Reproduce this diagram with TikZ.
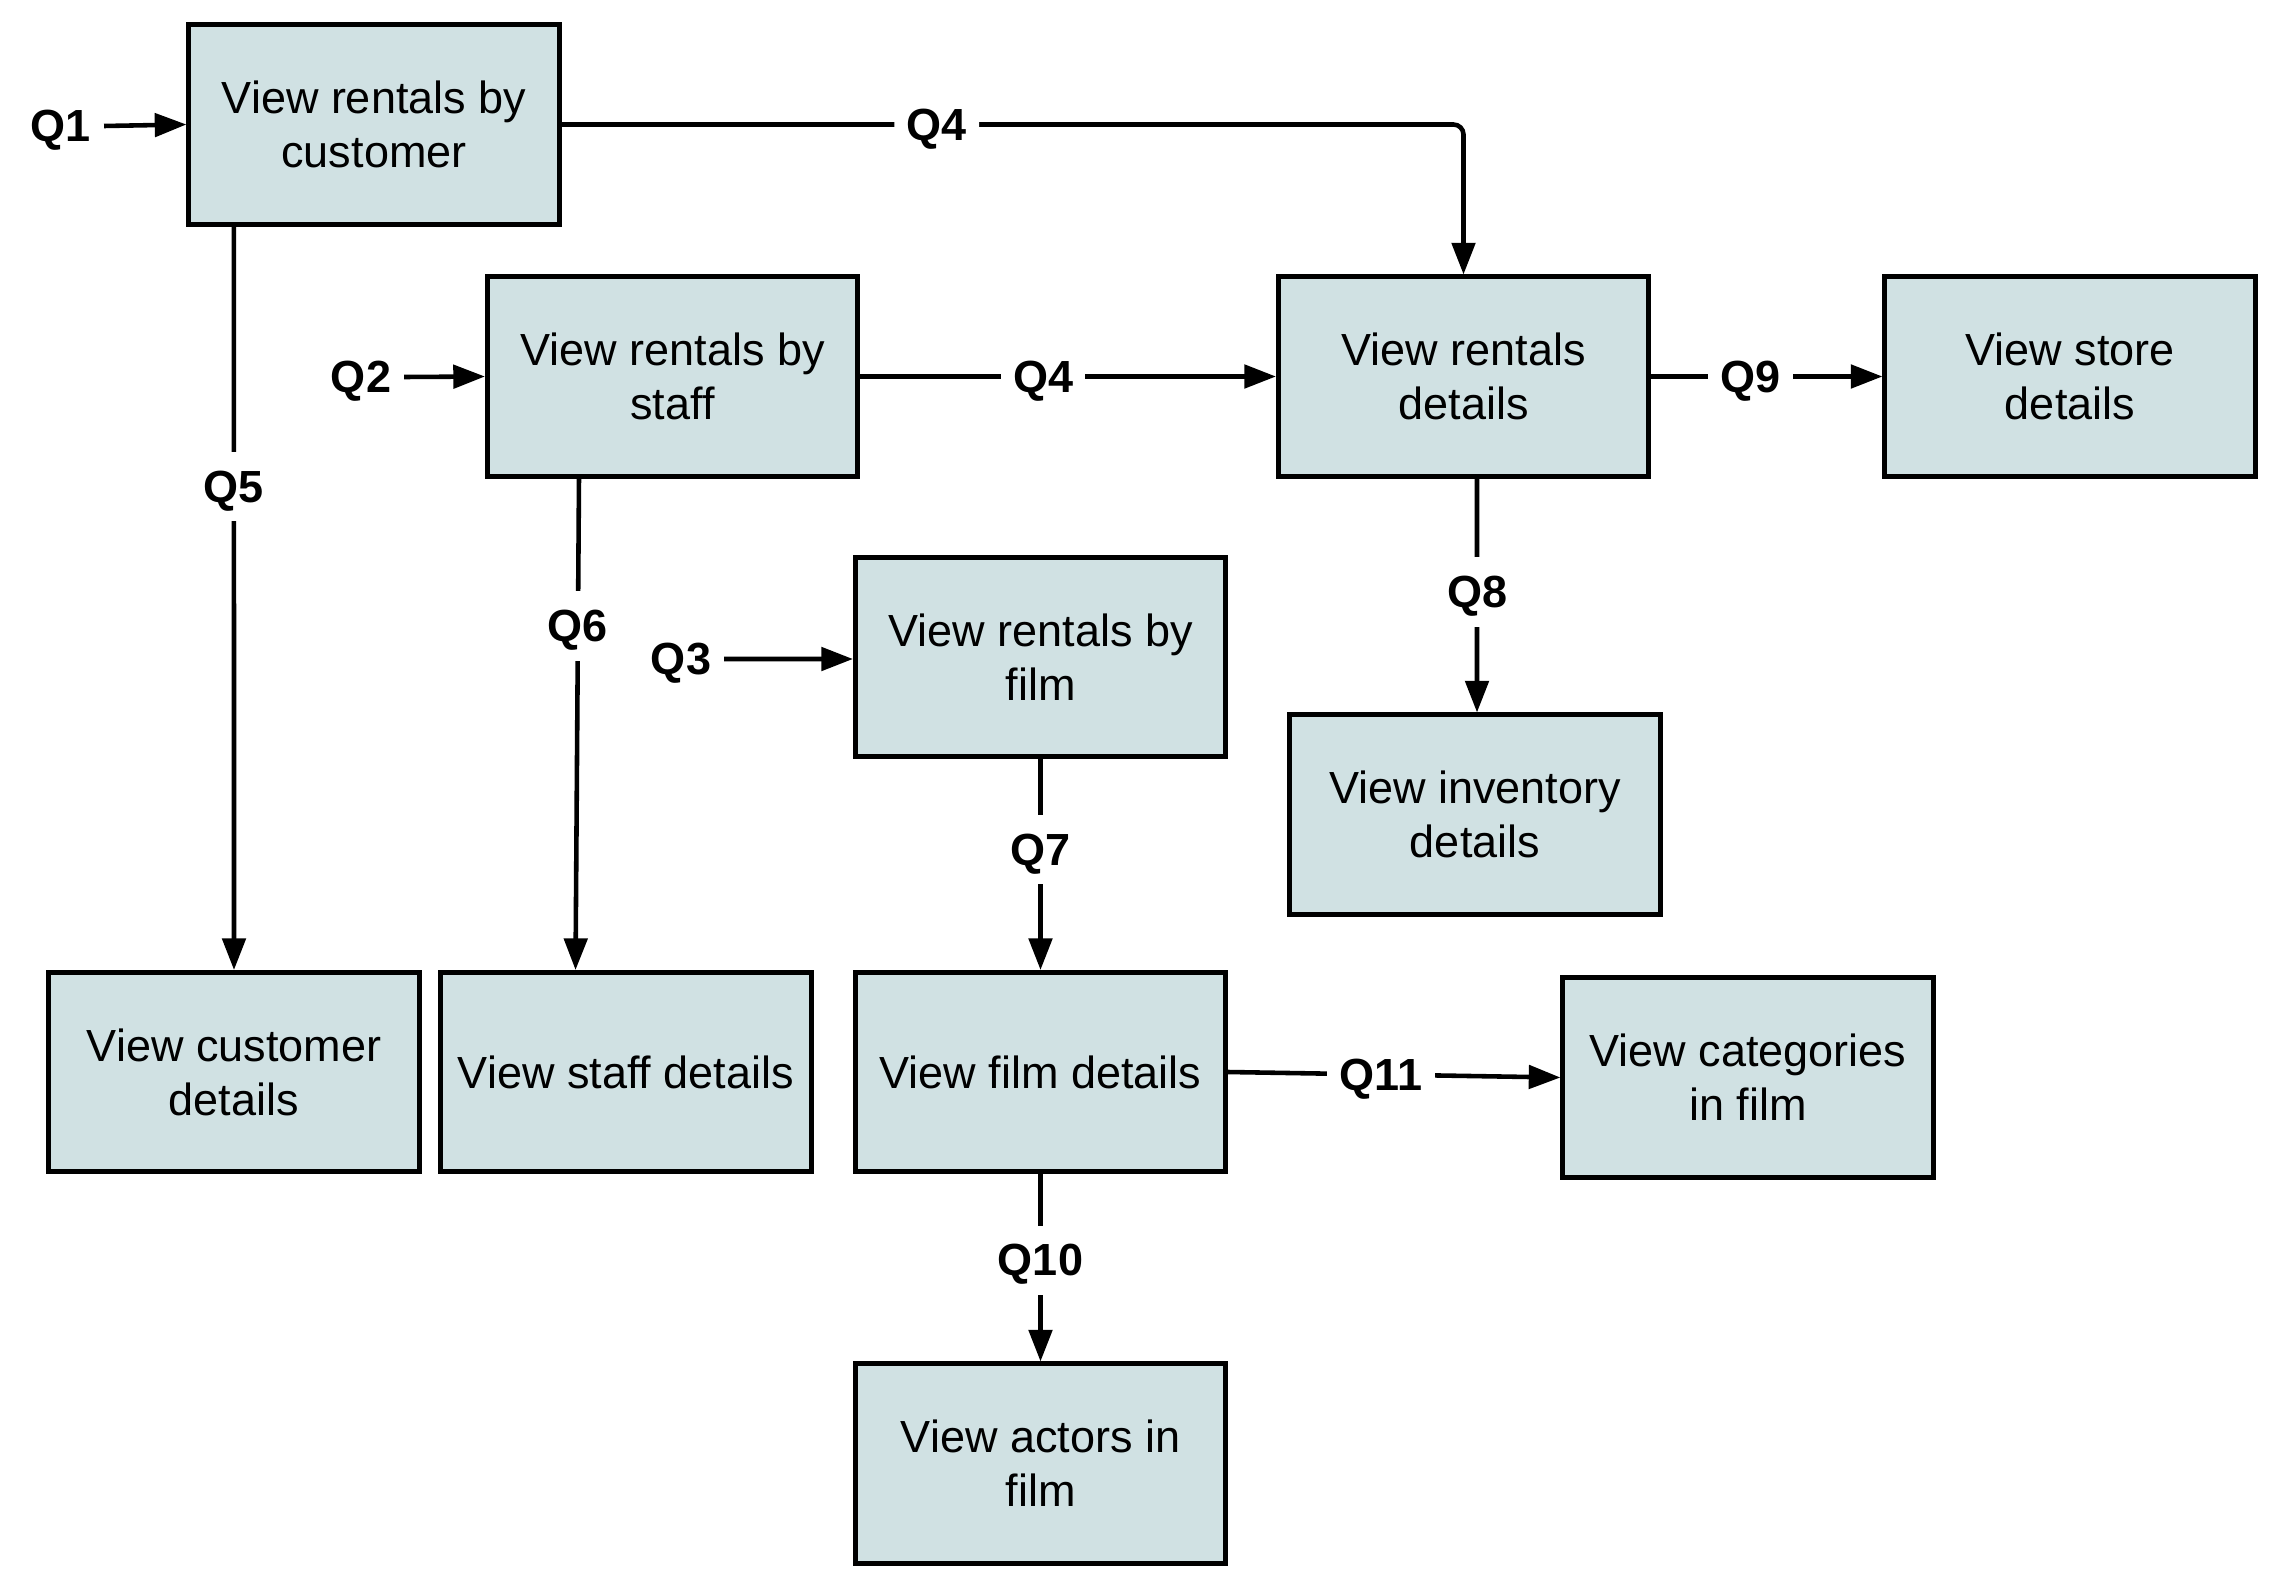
\documentclass[tikz,border=0pt]{standalone}
\usepackage{fontspec}
\setmainfont{Liberation Sans}
\usetikzlibrary{arrows.meta}
\definecolor{boxfill}{RGB}{208,225,227}
\begin{document}
\begin{tikzpicture}[x=0.01cm,y=-0.01cm,
  box/.style={draw=black,line width=1.4pt,fill=boxfill,minimum width=3.7cm,minimum height=1.99cm,
    inner sep=0pt,align=center,font=\fontsize{12.8}{15.4}\selectfont},
  lbl/.style={fill=white,inner xsep=3.5pt,inner ysep=5.4pt,text height=0.89em,text depth=0pt,
    font=\fontsize{12.8}{15}\selectfont\bfseries},
  conn/.style={line width=1.3pt,-{Triangle[length=9pt,width=6.6pt]}},
  plain/.style={line width=1.3pt}]
\useasboundingbox (0,0) rectangle (2282,1591);
% boxes
\node[box] (cust)   at (374,124.5)   {View rentals by\\customer};
\node[box] (staff)  at (672.5,376.5) {View rentals by\\staff};
\node[box] (rentd)  at (1463.5,376.5){View rentals\\details};
\node[box] (store)  at (2070,376.5)  {View store\\details};
\node[box] (film)   at (1040.5,657)  {View rentals by\\film};
\node[box] (inv)    at (1475,814.5)  {View inventory\\details};
\node[box] (custd)  at (234,1072)    {View customer\\details};
\node[box] (staffd) at (626,1072)    {View staff details};
\node[box] (filmd)  at (1040.5,1072) {View film details};
\node[box] (cat)    at (1748,1077.5) {View categories\\in film};
\node[box] (actors) at (1040.5,1463.5){View actors in\\film};
% entry labels
\node[lbl] (q1) at (61,126) {Q1};
\node[lbl] (q2) at (361,377) {Q2};
\node[lbl] (q3) at (681,659) {Q3};
\draw[conn] (q1.east) -- (cust.west);
\draw[conn] (q2.east) -- (staff.west);
\draw[conn] (q3.east) -- ([yshift=-0.02cm]film.west);
% connectors
\draw[conn,rounded corners=0.1cm] (cust.east) -| node[lbl,pos=0.208]{Q4} (rentd.north);
\draw[conn] (staff.east) -- node[lbl,pos=0.44]{Q4} (rentd.west);
\draw[conn] (rentd.east) -- node[lbl,pos=0.43]{Q9} (store.west);
\draw[conn] ([xshift=-1.40cm]cust.south) -- node[lbl,pos=0.35]{Q5} (custd.north);
\draw[conn] ([xshift=0.94cm]staff.south west) -- node[lbl,pos=0.30]{Q6} ([xshift=1.37cm]staffd.north west);
\draw[conn] (film.south) -- node[lbl,pos=0.43]{Q7} (filmd.north);
\draw[conn] ([xshift=0.135cm]rentd.south) -- node[lbl,pos=0.485]{Q8} ([xshift=0.02cm]inv.north);
\draw[conn] (filmd.east) -- node[lbl,pos=0.46]{Q11} (cat.west);
\draw[conn] (filmd.south) -- node[lbl,pos=0.46]{Q10} (actors.north);
\end{tikzpicture}
\end{document}
